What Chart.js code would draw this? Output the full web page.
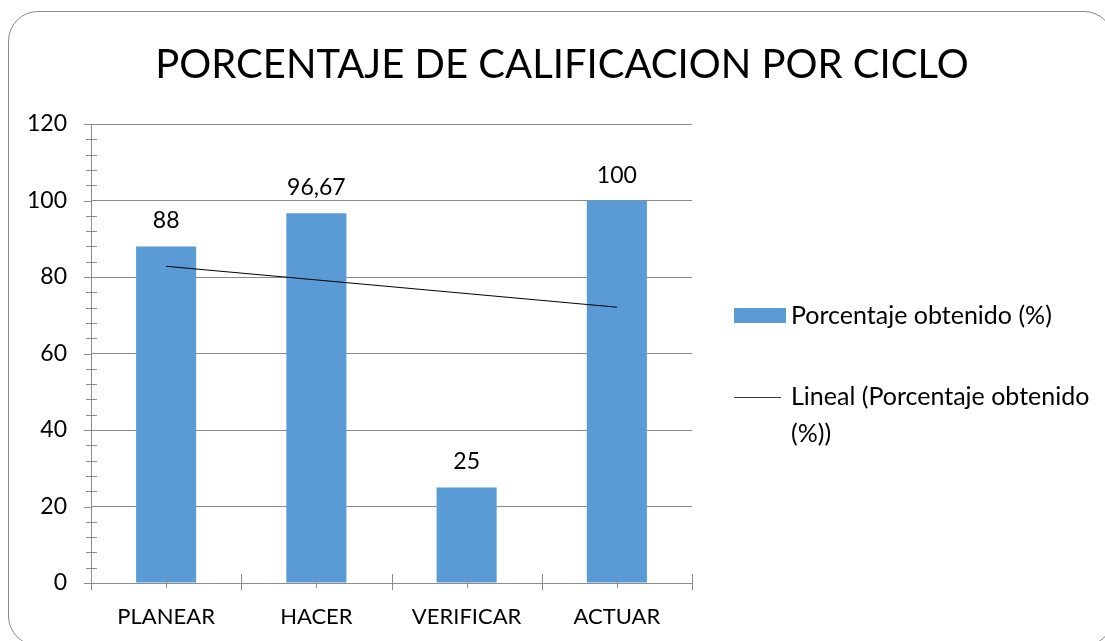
<!DOCTYPE html>
<html lang="es">
<head>
  <meta charset="UTF-8">
  <title>Porcentaje de calificacion por ciclo</title>
  <script src="https://cdn.jsdelivr.net/npm/chart.js@4.4.1/dist/chart.umd.min.js"></script>
  <style>
    body {
      margin: 0;
      background: #fff;
      overflow: hidden;
    }
    #frame {
      position: absolute;
      left: 8px;
      top: 11px;
      width: 1104px;
      height: 633px;
      border: 1.5px solid #8a8a8a;
      border-radius: 30px;
    }
    canvas {
      position: absolute;
      left: 0;
      top: 0;
    }
  </style>
</head>
<body>
  <div id="frame"></div>
  <canvas id="chart" width="1105" height="641"></canvas>

  <script>
    const titleText = 'PORCENTAJE DE CALIFICACION POR CICLO';
    const categories = ['PLANEAR', 'HACER', 'VERIFICAR', 'ACTUAR'];
    const porcentaje = [88, 96.67, 25, 100];
    // trend line at first and last category
    const tendencia = [82.8, null, null, 72.1];
    const yTicks = [0, 20, 40, 60, 80, 100, 120];

    const FONT = 'Lato, "Open Sans", sans-serif';
    const GRAY = '#8c8c8c';
    const BLUE = '#5b9bd5';

    function fmt(v) {
      return String(v).replace('.', ',');
    }

    // ticks, data labels, title and legend
    const decor = {
      id: 'decor',
      afterDraw(chart) {
        const ctx = chart.ctx;
        const x = chart.scales.x;
        const y = chart.scales.y;
        const area = chart.chartArea;
        ctx.save();
        ctx.strokeStyle = GRAY;
        ctx.lineWidth = 1;

        // y major + minor ticks
        for (let v = 0; v <= 120; v += 4) {
          const py = Math.round(y.getPixelForValue(v)) + 0.5;
          ctx.beginPath();
          if (v % 20 === 0) {
            ctx.moveTo(area.left - 7, py);
            ctx.lineTo(area.left + 1, py);
          } else {
            ctx.moveTo(area.left - 5, py);
            ctx.lineTo(area.left + 6, py);
          }
          ctx.stroke();
        }

        // x ticks at category borders and centers
        const n = categories.length;
        const w = (area.right - area.left) / n;
        for (let i = 0; i <= n; i++) {
          const px = Math.round(area.left + i * w) + 0.5;
          ctx.beginPath();
          ctx.moveTo(px, area.bottom - 9);
          ctx.lineTo(px, area.bottom + 7);
          ctx.stroke();
        }
        for (let i = 0; i < n; i++) {
          const px = Math.round(x.getPixelForValue(i)) + 0.5;
          ctx.beginPath();
          ctx.moveTo(px, area.bottom - 6);
          ctx.lineTo(px, area.bottom + 5);
          ctx.stroke();
        }

        // value labels above bars
        ctx.fillStyle = '#000';
        ctx.font = '23px ' + FONT;
        ctx.textAlign = 'center';
        ctx.textBaseline = 'alphabetic';
        const meta = chart.getDatasetMeta(0);
        meta.data.forEach((bar, i) => {
          ctx.fillText(fmt(porcentaje[i]), bar.x, bar.y - 18);
        });

        // title
        ctx.font = '40px ' + FONT;
        ctx.textBaseline = 'middle';
        ctx.fillText(titleText, 562, 65);

        // legend
        ctx.textAlign = 'left';
        ctx.font = '25px ' + FONT;
        const ds = chart.data.datasets;
        ctx.fillStyle = ds[0].backgroundColor;
        ctx.fillRect(734, 308, 52, 15);
        ctx.fillStyle = '#000';
        ctx.fillText(ds[0].label, 791, 316);

        ctx.strokeStyle = '#404040';
        ctx.beginPath();
        ctx.moveTo(734, 397.5);
        ctx.lineTo(781, 397.5);
        ctx.stroke();
        const words = ds[1].label.split(' ');
        let line = '';
        let ly = 397;
        words.forEach(word => {
          const test = line ? line + ' ' + word : word;
          if (ctx.measureText(test).width > 312 && line) {
            ctx.fillText(line, 791, ly);
            line = word;
            ly += 37;
          } else {
            line = test;
          }
        });
        ctx.fillText(line, 791, ly);
        ctx.restore();
      }
    };

    new Chart(document.getElementById('chart'), {
      data: {
        labels: categories,
        datasets: [
          {
            type: 'bar',
            label: 'Porcentaje obtenido (%)',
            data: porcentaje,
            backgroundColor: BLUE,
            categoryPercentage: 1,
            barPercentage: 0.4,
            order: 1
          },
          {
            type: 'line',
            label: 'Lineal (Porcentaje obtenido (%))',
            data: tendencia,
            borderColor: '#000',
            borderWidth: 1,
            pointRadius: 0,
            spanGaps: true,
            order: 0
          }
        ]
      },
      options: {
        responsive: false,
        animation: false,
        layout: { padding: { left: 0, right: 413, top: 124, bottom: 0 } },
        plugins: {
          legend: { display: false },
          title: { display: false },
          tooltip: { enabled: false }
        },
        scales: {
          x: {
            afterFit: s => { s.height = 58; },
            grid: { display: true, drawOnChartArea: false, drawTicks: false },
            border: { color: GRAY, width: 1 },
            ticks: { color: '#000', padding: 21, font: { family: FONT, size: 22 } }
          },
          y: {
            min: 0,
            max: 120,
            afterFit: s => { s.width = 91; },
            afterBuildTicks: s => { s.ticks = yTicks.map(v => ({ value: v })); },
            grid: { color: GRAY, lineWidth: 1, drawTicks: false },
            border: { color: GRAY, width: 1 },
            ticks: { color: '#000', padding: 24, font: { family: FONT, size: 23 } }
          }
        }
      },
      plugins: [decor]
    });
  </script>
</body>
</html>
